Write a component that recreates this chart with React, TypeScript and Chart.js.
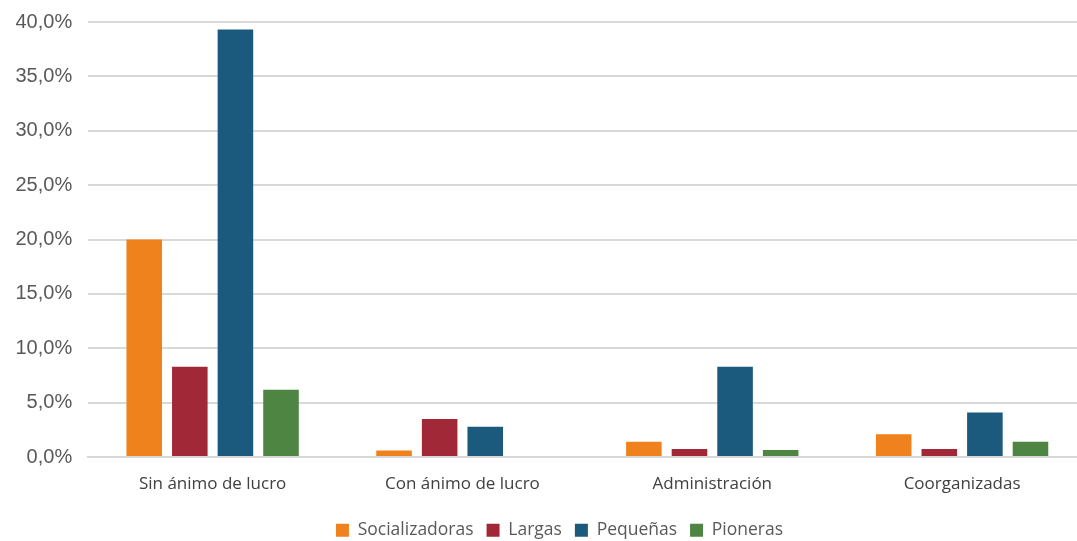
import React, { useEffect, useRef } from "react";
import { Chart, registerables } from "chart.js";

Chart.register(...registerables);

const categories = ["Sin ánimo de lucro", "Con ánimo de lucro", "Administración", "Coorganizadas"];
const socializadoras = [20.0, 0.6, 1.4, 2.1];
const largas = [8.3, 3.5, 0.75, 0.75];
const pequenas = [39.3, 2.8, 8.3, 4.1];
const pioneras = [6.2, 0, 0.65, 1.4];
const seriesNames = ["Socializadoras", "Largas", "Pequeñas", "Pioneras"];
const seriesColors = ["#F0821E", "#A12837", "#1B5A7D", "#4E8542"];

const legendShift = {
  id: "legendShift",
  afterLayout(chart: any) {
    const lg = chart.legend;
    if (lg) {
      lg.top += 8;
      lg.bottom += 8;
      lg.left += 16;
      lg.right += 16;
      if (lg.legendHitBoxes)
        lg.legendHitBoxes.forEach((h: any) => {
          h.top += 8;
          h.left += 16;
        });
    }
  },
};

export default function App() {
  const ref = useRef<HTMLCanvasElement | null>(null);
  useEffect(() => {
    document.body.style.margin = "0";
    const ctx = ref.current!;
    const values = [socializadoras, largas, pequenas, pioneras];
    const chart = new Chart(ctx, {
      type: "bar",
      data: {
        labels: categories,
        datasets: values.map((v, i) => ({
          label: seriesNames[i],
          data: v,
          backgroundColor: seriesColors[i],
          borderWidth: 0,
          categoryPercentage: 0.73,
          barPercentage: 0.78,
        })),
      },
      plugins: [legendShift],
      options: {
        animation: false,
        responsive: false,
        maintainAspectRatio: false,
        layout: { padding: { top: 22, right: 0, left: 0, bottom: 0 } },
        plugins: {
          tooltip: { enabled: false },
          legend: {
            position: "bottom",
            labels: {
              boxWidth: 13,
              boxHeight: 13,
              padding: 13,
              color: "#595959",
              font: { family: "'Open Sans', 'Noto Sans', sans-serif", size: 17.5 },
            },
          },
        },
        scales: {
          x: {
            grid: { display: false },
            border: { display: true, color: "#D9D9D9", width: 2 },
            afterFit: (scale: any) => {
              scale.height -= 3;
            },
            ticks: {
              color: "#404040",
              padding: 9,
              font: { family: "'Open Sans', 'Noto Sans', sans-serif", size: 17 },
            },
          },
          y: {
            min: 0,
            max: 40,
            grid: { color: "#D9D9D9", lineWidth: 2, drawTicks: false },
            border: { display: false },
            afterFit: (scale: any) => {
              scale.paddingTop = 0;
              scale.paddingBottom = 0;
            },
            ticks: {
              stepSize: 5,
              padding: 15.5,
              color: "#595959",
              font: { family: "'Liberation Sans', Arial, sans-serif", size: 20 },
              callback: (v: any) => Number(v).toFixed(1).replace(".", ",") + "%",
            },
          },
        },
      },
    });
    return () => chart.destroy();
  }, []);
  return (
    <div style={{ width: 1077, height: 541, overflow: "hidden" }}>
      <canvas ref={ref} width={1087} height={541} style={{ display: "block" }} />
    </div>
  );
}
